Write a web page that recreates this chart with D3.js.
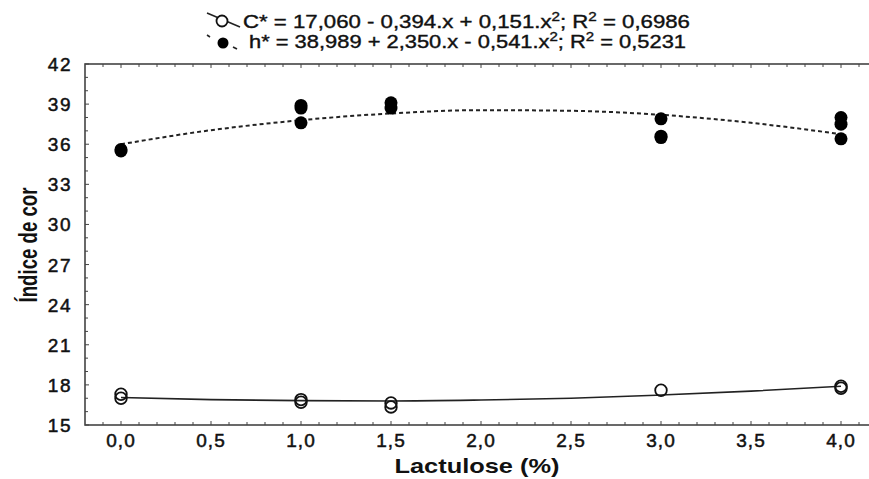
<!DOCTYPE html>
<html><head><meta charset="utf-8">
<script src="https://cdn.jsdelivr.net/npm/d3@7"></script>
<style>body{margin:0;background:#fff}svg{display:block}text{font-family:Arial,"Liberation Sans",sans-serif}</style>
</head><body><svg id="c" width="869" height="479"></svg>
<script>
// Observed points
const hX = [0,0,1,1,1,1.5,1.5,3,3,3,4,4,4];
const hY = [35.6,35.5,38.9,38.7,37.6,39.1,38.7,37.9,36.6,36.5,38.0,37.5,36.4];
const cX = [0,0,1,1,1.5,1.5,3,4,4];
const cY = [17.3,17.0,16.9,16.7,16.65,16.35,17.6,17.9,17.75];
// Fitted curves
const curveX = [0,0.5,1,1.5,2,2.5,3,3.5,4];
const hFit = [36.0,37.05,37.8,38.3,38.55,38.5,38.2,37.6,36.75];
const cFit = [17.06,16.9,16.82,16.8,16.87,17.0,17.24,17.53,17.9];
// Axis ticks
const xTicks = [0,0.5,1,1.5,2,2.5,3,3.5,4];
const xTickLabels = ["0,0","0,5","1,0","1,5","2,0","2,5","3,0","3,5","4,0"];
const yTicks = [15,18,21,24,27,30,33,36,39,42];
const legendTexts = [
  ["C* = 17,060 - 0,394.x + 0,151.x","2","; R","2"," = 0,6986"],
  ["h* = 38,989 + 2,350.x - 0,541.x","2","; R","2"," = 0,5231"]
];

const svg = d3.select("#c");
const L=85, R=877, T=64, B=425;
const x = d3.scaleLinear().domain([-0.2,4.2]).range([L,R]);
const y = d3.scaleLinear().domain([15,42]).range([B,T]);

const axCol="#444";
svg.append("rect").attr("x",L).attr("y",T).attr("width",R-L).attr("height",B-T)
  .attr("fill","none").attr("stroke",axCol).attr("stroke-width",1.6);

const xMinor = d3.range(-0.1,4.2,0.1).map(v=>Math.round(v*10)/10);
[B,T].forEach(yy=>{
  const dir = yy===B?-1:1;
  svg.append("g").selectAll("line").data(xMinor).join("line")
    .attr("x1",d=>x(d)).attr("x2",d=>x(d))
    .attr("y1",yy).attr("y2",d=>yy+dir*(Math.abs(d*2-Math.round(d*2))<1e-6?4:3))
    .attr("stroke",axCol).attr("stroke-width",1);
});
const yMinor = d3.range(15,43,1);
svg.append("g").selectAll("line").data(yMinor).join("line")
  .attr("x1",L).attr("x2",d=>L+(d%3===0?4:3))
  .attr("y1",d=>y(d)).attr("y2",d=>y(d)).attr("stroke",axCol).attr("stroke-width",1);

svg.append("g").selectAll("text").data(xTicks).join("text")
  .attr("x",d=>x(d)).attr("y",447).attr("text-anchor","middle")
  .attr("font-size",19).attr("letter-spacing",1).attr("fill","#111").attr("stroke","#111").attr("stroke-width",0.5)
  .text((d,i)=>xTickLabels[i]);
svg.append("g").selectAll("text").data(yTicks).join("text")
  .attr("x",72).attr("y",d=>y(d)+7).attr("text-anchor","end")
  .attr("font-size",19).attr("letter-spacing",1.5).attr("fill","#111").attr("stroke","#111").attr("stroke-width",0.5)
  .text(d=>d);

svg.append("text").attr("x",477).attr("y",473).attr("text-anchor","middle")
  .attr("font-size",21).attr("font-weight","bold").attr("fill","#111")
  .attr("textLength",165).attr("lengthAdjust","spacingAndGlyphs").text("Lactulose (%)");
svg.append("text").attr("transform","translate(37,245) rotate(-90)").attr("text-anchor","middle")
  .attr("font-size",25).attr("font-weight","bold").attr("fill","#111")
  .attr("font-family","'Liberation Sans Narrow','Arial Narrow',Arial,sans-serif")
  .attr("textLength",115).attr("lengthAdjust","spacingAndGlyphs")
  .text("Índice de cor");

const line = d3.line().curve(d3.curveMonotoneX);
svg.append("path").attr("d",line(curveX.map((v,i)=>[x(v),y(hFit[i])])))
  .attr("fill","none").attr("stroke","#222").attr("stroke-width",2).attr("stroke-dasharray","4,3");
svg.append("path").attr("d",line(curveX.map((v,i)=>[x(v),y(cFit[i])])))
  .attr("fill","none").attr("stroke","#222").attr("stroke-width",1.6);

svg.append("g").selectAll("circle").data(hX).join("circle")
  .attr("cx",d=>x(d)).attr("cy",(d,i)=>y(hY[i])).attr("r",6.5).attr("fill","#000");
svg.append("g").selectAll("circle").data(cX).join("circle")
  .attr("cx",d=>x(d)).attr("cy",(d,i)=>y(cY[i])).attr("r",5.8).attr("fill","none")
  .attr("stroke","#111").attr("stroke-width",1.8);

const leg = svg.append("g");
leg.append("line").attr("x1",207).attr("y1",13).attr("x2",240).attr("y2",27).attr("stroke","#222").attr("stroke-width",1.6);
leg.append("circle").attr("cx",222).attr("cy",21).attr("r",5.5).attr("fill","#fff").attr("stroke","#111").attr("stroke-width",1.8);
leg.append("line").attr("x1",207).attr("y1",35).attr("x2",210).attr("y2",37).attr("stroke","#222").attr("stroke-width",1.6);
leg.append("circle").attr("cx",223).attr("cy",43).attr("r",5.5).attr("fill","#000");
leg.append("line").attr("x1",233).attr("y1",47).attr("x2",237).attr("y2",49).attr("stroke","#222").attr("stroke-width",1.6);
const legW = [447, 437];
legendTexts.forEach((parts,i)=>{
  const t = leg.append("text").attr("x",i===0?243:249).attr("y",i===0?28:48)
    .attr("font-size",19).attr("fill","#111").attr("stroke","#111").attr("stroke-width",0.4)
    .attr("textLength",legW[i]).attr("lengthAdjust","spacingAndGlyphs");
  parts.forEach((p,j)=>{
    const ts = t.append("tspan").text(p);
    if(j===1||j===3){ ts.attr("font-size",13).attr("dy",-7); }
    else if(j>1){ ts.attr("dy",7); }
  });
});
</script></body></html>
